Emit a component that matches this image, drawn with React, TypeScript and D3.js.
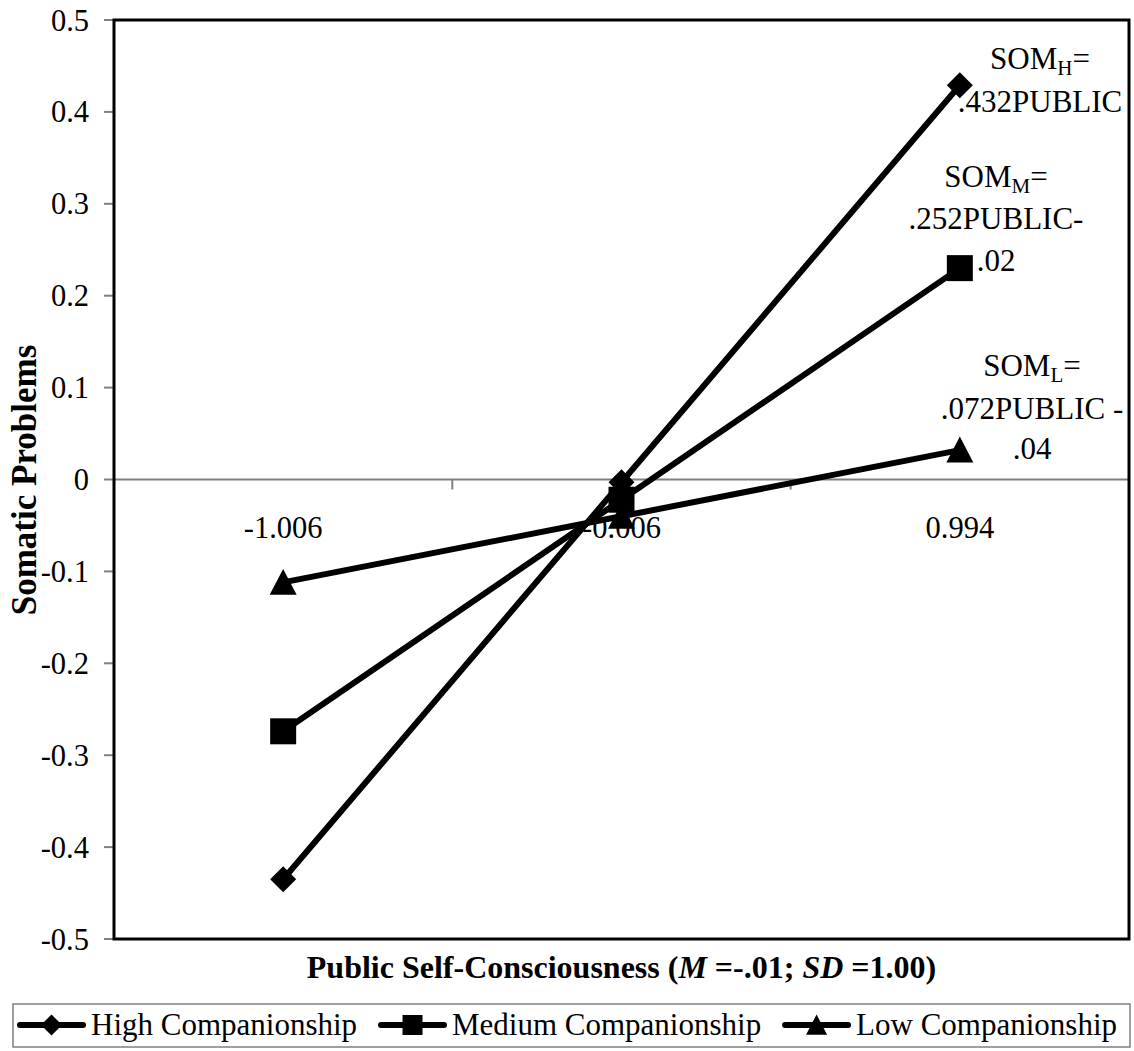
import React, { useEffect, useRef } from 'react';
import * as d3 from 'd3';

const categories = ['-1.006', '-0.006', '0.994'];
const highValues = [-0.435, -0.003, 0.429];
const mediumValues = [-0.274, -0.022, 0.23];
const lowValues = [-0.112, -0.04, 0.032];
const seriesNames = ['High Companionship', 'Medium Companionship', 'Low Companionship'];
const yTicks = [0.5, 0.4, 0.3, 0.2, 0.1, 0, -0.1, -0.2, -0.3, -0.4, -0.5];
const yTickLabels = ['0.5', '0.4', '0.3', '0.2', '0.1', '0', '-0.1', '-0.2', '-0.3', '-0.4', '-0.5'];
const annoHigh = [['SOM', 'H', '='], ['.432PUBLIC']];
const annoMedium = [['SOM', 'M', '='], ['.252PUBLIC-'], ['.02']];
const annoLow = [['SOM', 'L', '='], ['.072PUBLIC -'], ['.04']];

const W = 1134;
const H = 1051;
const FONT = '"Liberation Serif", "Times New Roman", serif';

const diamond = {
  draw(ctx: any, size: number) {
    const r = Math.sqrt(size) / 2;
    ctx.moveTo(0, -r);
    ctx.lineTo(r, 0);
    ctx.lineTo(0, r);
    ctx.lineTo(-r, 0);
    ctx.closePath();
  },
};
const square = {
  draw(ctx: any, size: number) {
    const r = Math.sqrt(size) / 2;
    ctx.rect(-r, -r, 2 * r, 2 * r);
  },
};
const triangle = {
  draw(ctx: any, size: number) {
    const r = Math.sqrt(size) / 2;
    ctx.moveTo(0, -r);
    ctx.lineTo(r, r * 0.92);
    ctx.lineTo(-r, r * 0.92);
    ctx.closePath();
  },
};

export default function App() {
  const ref = useRef<SVGSVGElement | null>(null);

  useEffect(() => {
    const svg = d3.select(ref.current);
    svg.selectAll('*').remove();

    const left = 114, right = 1129, top = 20, bottom = 939;
    const x = d3.scaleBand<string>().domain(categories).range([left, right]).padding(0);
    const y = d3.scaleLinear().domain([-0.5, 0.5]).range([bottom, top]);
    const cx = (c: string) => (x(c) as number) + x.bandwidth() / 2;

    // y ticks
    const yt = svg.append('g');
    yTicks.forEach((t, i) => {
      yt.append('line')
        .attr('x1', left - 10).attr('x2', left)
        .attr('y1', y(t)).attr('y2', y(t))
        .attr('stroke', '#808080').attr('stroke-width', 2);
      yt.append('text')
        .attr('x', 89).attr('y', y(t) + 10.5)
        .attr('text-anchor', 'end')
        .attr('font-family', FONT).attr('font-size', 30.5)
        .text(yTickLabels[i]);
    });

    // zero line
    svg.append('line')
      .attr('x1', left).attr('x2', right)
      .attr('y1', y(0)).attr('y2', y(0))
      .attr('stroke', '#808080').attr('stroke-width', 2);
    categories.slice(1).forEach((c) => {
      const bx = x(c) as number;
      svg.append('line')
        .attr('x1', bx).attr('x2', bx)
        .attr('y1', y(0)).attr('y2', y(0) + 10)
        .attr('stroke', '#808080').attr('stroke-width', 2);
    });

    // x tick labels
    categories.forEach((c) => {
      svg.append('text')
        .attr('x', cx(c)).attr('y', 538)
        .attr('text-anchor', 'middle')
        .attr('font-family', FONT).attr('font-size', 30.5)
        .text(c);
    });

    // plot border
    svg.append('rect')
      .attr('x', left).attr('y', top)
      .attr('width', right - left).attr('height', bottom - top)
      .attr('fill', 'none').attr('stroke', '#000').attr('stroke-width', 3);

    // series
    const series = [
      { values: highValues, type: diamond, size: 26 * 26 },
      { values: mediumValues, type: square, size: 26 * 26 },
      { values: lowValues, type: triangle, size: 27 * 27 },
    ];
    const line = d3.line<number>()
      .x((_, i) => cx(categories[i]))
      .y((d) => y(d));
    series.forEach((s) => {
      svg.append('path')
        .attr('d', line(s.values) as string)
        .attr('fill', 'none').attr('stroke', '#000').attr('stroke-width', 6);
    });
    series.forEach((s) => {
      const sym = d3.symbol().type(s.type as any).size(s.size);
      s.values.forEach((v, i) => {
        svg.append('path')
          .attr('d', sym() as string)
          .attr('transform', `translate(${cx(categories[i])},${y(v)})`)
          .attr('fill', '#000');
      });
    });

    // annotations
    const drawAnno = (lines: string[][], centerX: number, baselines: number[]) => {
      lines.forEach((ln, i) => {
        const t = svg.append('text')
          .attr('x', centerX).attr('y', baselines[i])
          .attr('text-anchor', 'middle')
          .attr('font-family', FONT).attr('font-size', 31);
        if (ln.length === 3) {
          t.append('tspan').text(ln[0]);
          t.append('tspan').attr('font-size', 21).attr('dy', 6).text(ln[1]);
          t.append('tspan').attr('dy', -6).text(ln[2]);
        } else {
          t.text(ln[0]);
        }
      });
    };
    drawAnno(annoHigh, 1040, [69, 112]);
    drawAnno(annoMedium, 996, [187, 229, 271]);
    drawAnno(annoLow, 1032, [376, 419, 459]);

    // axis titles
    const xt = svg.append('text')
      .attr('x', (left + right) / 2).attr('y', 978)
      .attr('text-anchor', 'middle')
      .attr('font-family', FONT).attr('font-size', 32).attr('font-weight', 'bold');
    xt.append('tspan').text('Public Self-Consciousness (');
    xt.append('tspan').attr('font-style', 'italic').text('M');
    xt.append('tspan').text(' =-.01; ');
    xt.append('tspan').attr('font-style', 'italic').text('SD');
    xt.append('tspan').text(' =1.00)');

    svg.append('text')
      .attr('transform', 'translate(36,480) rotate(-90)')
      .attr('text-anchor', 'middle')
      .attr('font-family', FONT).attr('font-size', 35).attr('font-weight', 'bold')
      .text('Somatic Problems');

    // legend
    const lgLeft = 13, lgRight = 1130, lgTop = 1004, lgBottom = 1047;
    svg.append('rect')
      .attr('x', lgLeft).attr('y', lgTop)
      .attr('width', lgRight - lgLeft).attr('height', lgBottom - lgTop)
      .attr('fill', '#fff').attr('stroke', '#808080').attr('stroke-width', 1.5);
    const lineLen = 63, textGap = 8;
    const texts = seriesNames.map((n) =>
      svg.append('text')
        .attr('y', 1035)
        .attr('font-family', FONT).attr('font-size', 31)
        .text(n)
    );
    const widths = texts.map((t) => (t.node() as SVGTextElement).getComputedTextLength());
    const contentStart = 20, contentEnd = 1117;
    const fixed = widths.reduce((a, b) => a + b, 0) + 3 * (lineLen + textGap);
    const gap = (contentEnd - contentStart - fixed) / 2;
    let cur = contentStart;
    const legendTypes = [diamond, square, triangle];
    const legendSizes = [21 * 21, 20 * 20, 21 * 21];
    texts.forEach((t, i) => {
      const ly = 1025;
      svg.append('line')
        .attr('x1', cur).attr('x2', cur + lineLen)
        .attr('y1', ly).attr('y2', ly)
        .attr('stroke', '#000').attr('stroke-width', 6).attr('stroke-linecap', 'round');
      const sym = d3.symbol().type(legendTypes[i] as any).size(legendSizes[i]);
      svg.append('path')
        .attr('d', sym() as string)
        .attr('transform', `translate(${cur + lineLen / 2},${ly})`)
        .attr('fill', '#000');
      t.attr('x', cur + lineLen + textGap);
      t.raise();
      cur += lineLen + textGap + widths[i] + gap;
    });
  }, []);

  return (
    <div style={{ position: 'absolute', left: 0, top: 0, width: W, height: H, background: '#fff' }}>
      <svg ref={ref} width={W} height={H} style={{ display: 'block' }} />
    </div>
  );
}
